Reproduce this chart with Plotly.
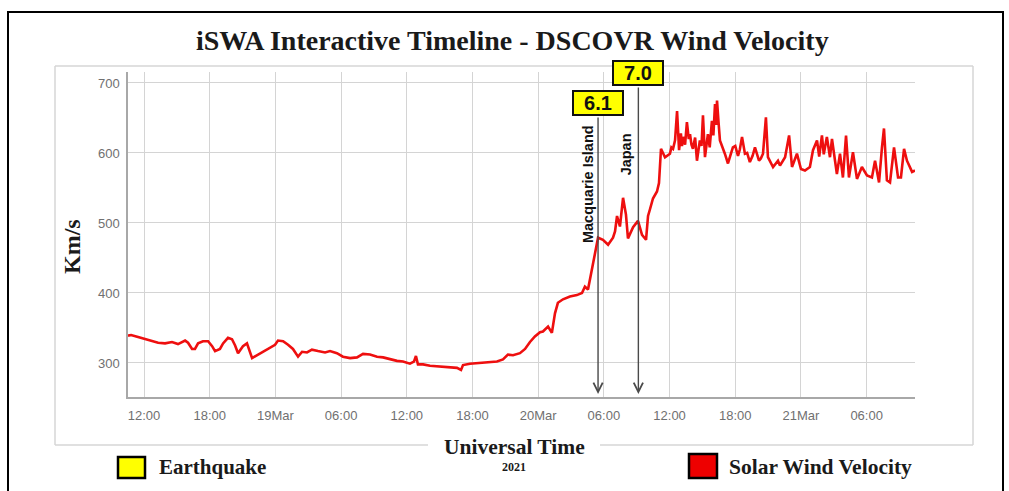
import plotly.graph_objects as go

# DSCOVR solar wind speed (km/s), 18-21 March 2021 (UT)
times = [
    "2021-03-18 10:32", "2021-03-18 10:49", "2021-03-18 11:27", "2021-03-18 12:05", "2021-03-18 12:44",
    "2021-03-18 13:17", "2021-03-18 13:55", "2021-03-18 14:33", "2021-03-18 15:06", "2021-03-18 15:45",
    "2021-03-18 16:01", "2021-03-18 16:23", "2021-03-18 16:39", "2021-03-18 16:56", "2021-03-18 17:23",
    "2021-03-18 17:51", "2021-03-18 18:13", "2021-03-18 18:29", "2021-03-18 18:56", "2021-03-18 19:13",
    "2021-03-18 19:40", "2021-03-18 20:02", "2021-03-18 20:19", "2021-03-18 20:35", "2021-03-18 21:02",
    "2021-03-18 21:24", "2021-03-18 21:52", "2021-03-18 22:19", "2021-03-18 22:47", "2021-03-18 23:19",
    "2021-03-18 23:58", "2021-03-19 00:14", "2021-03-19 00:42", "2021-03-19 01:09", "2021-03-19 01:36",
    "2021-03-19 02:04", "2021-03-19 02:26", "2021-03-19 02:53", "2021-03-19 03:20", "2021-03-19 03:53",
    "2021-03-19 04:32", "2021-03-19 04:59", "2021-03-19 05:37", "2021-03-19 06:10", "2021-03-19 06:49",
    "2021-03-19 07:27", "2021-03-19 08:00", "2021-03-19 08:38", "2021-03-19 09:17", "2021-03-19 09:50",
    "2021-03-19 10:28", "2021-03-19 11:06", "2021-03-19 11:39", "2021-03-19 12:17", "2021-03-19 12:39",
    "2021-03-19 12:50", "2021-03-19 13:01", "2021-03-19 13:29", "2021-03-19 14:07", "2021-03-19 14:45",
    "2021-03-19 15:18", "2021-03-19 15:57", "2021-03-19 16:35", "2021-03-19 16:57", "2021-03-19 17:08",
    "2021-03-19 17:46", "2021-03-19 18:24", "2021-03-19 18:57", "2021-03-19 19:36", "2021-03-19 20:14",
    "2021-03-19 20:47", "2021-03-19 21:14", "2021-03-19 21:42", "2021-03-19 22:20", "2021-03-19 22:48",
    "2021-03-19 23:15", "2021-03-19 23:42", "2021-03-20 00:10", "2021-03-20 00:26", "2021-03-20 00:54",
    "2021-03-20 01:15", "2021-03-20 01:32", "2021-03-20 01:48", "2021-03-20 02:16", "2021-03-20 02:54",
    "2021-03-20 03:32", "2021-03-20 04:00", "2021-03-20 04:16", "2021-03-20 04:33", "2021-03-20 04:55",
    "2021-03-20 05:11", "2021-03-20 05:28", "2021-03-20 05:55", "2021-03-20 06:23", "2021-03-20 06:50",
    "2021-03-20 07:01", "2021-03-20 07:12", "2021-03-20 07:28", "2021-03-20 07:45", "2021-03-20 08:01",
    "2021-03-20 08:12", "2021-03-20 08:40", "2021-03-20 09:07", "2021-03-20 09:29", "2021-03-20 09:51",
    "2021-03-20 10:02", "2021-03-20 10:13", "2021-03-20 10:29", "2021-03-20 10:51", "2021-03-20 11:02",
    "2021-03-20 11:13", "2021-03-20 11:35", "2021-03-20 12:02", "2021-03-20 12:10", "2021-03-20 12:19",
    "2021-03-20 12:30", "2021-03-20 12:41", "2021-03-20 12:52", "2021-03-20 13:02", "2021-03-20 13:08",
    "2021-03-20 13:14", "2021-03-20 13:25", "2021-03-20 13:35", "2021-03-20 13:45", "2021-03-20 13:52",
    "2021-03-20 14:00", "2021-03-20 14:08", "2021-03-20 14:20", "2021-03-20 14:30", "2021-03-20 14:38",
    "2021-03-20 14:46", "2021-03-20 14:55", "2021-03-20 15:03", "2021-03-20 15:14", "2021-03-20 15:22",
    "2021-03-20 15:30", "2021-03-20 15:40", "2021-03-20 15:52", "2021-03-20 16:00", "2021-03-20 16:09",
    "2021-03-20 16:15", "2021-03-20 16:20", "2021-03-20 16:28", "2021-03-20 16:36", "2021-03-20 17:03",
    "2021-03-20 17:10", "2021-03-20 17:20", "2021-03-20 17:35", "2021-03-20 17:47", "2021-03-20 18:00",
    "2021-03-20 18:15", "2021-03-20 18:25", "2021-03-20 18:37", "2021-03-20 18:53", "2021-03-20 19:05",
    "2021-03-20 19:20", "2021-03-20 19:35", "2021-03-20 19:48", "2021-03-20 20:10", "2021-03-20 20:20",
    "2021-03-20 20:32", "2021-03-20 20:48", "2021-03-20 20:59", "2021-03-20 21:27", "2021-03-20 21:54",
    "2021-03-20 22:05", "2021-03-20 22:33", "2021-03-20 22:55", "2021-03-20 23:11", "2021-03-20 23:38",
    "2021-03-21 00:00", "2021-03-21 00:22", "2021-03-21 00:49", "2021-03-21 01:06", "2021-03-21 01:28",
    "2021-03-21 01:40", "2021-03-21 01:55", "2021-03-21 02:05", "2021-03-21 02:22", "2021-03-21 02:39",
    "2021-03-21 02:50", "2021-03-21 03:17", "2021-03-21 03:34", "2021-03-21 03:50", "2021-03-21 04:07",
    "2021-03-21 04:23", "2021-03-21 04:45", "2021-03-21 05:07", "2021-03-21 05:34", "2021-03-21 06:02",
    "2021-03-21 06:29", "2021-03-21 06:46", "2021-03-21 07:08", "2021-03-21 07:24", "2021-03-21 07:35",
    "2021-03-21 07:51", "2021-03-21 08:08", "2021-03-21 08:30", "2021-03-21 08:52", "2021-03-21 09:08",
    "2021-03-21 09:25", "2021-03-21 09:41", "2021-03-21 10:09", "2021-03-21 10:25",
]
speed = [
    339, 340, 337, 334, 332,
    329, 328, 330, 327, 332,
    329, 320, 320, 328, 331,
    331, 324, 317, 320, 328,
    336, 334, 325, 314, 324,
    328, 307, 311, 316, 321,
    326, 332, 331, 326, 320,
    309, 316, 315, 319, 317,
    315, 317, 314, 309, 307,
    308, 313, 312, 309, 308,
    305, 303, 302, 299, 302,
    310, 298, 298, 296, 295,
    294, 294, 293, 290, 297,
    299, 300, 300, 301, 302,
    305, 312, 311, 314, 320,
    330, 338, 344, 345, 352,
    343, 371, 386, 391, 395,
    397, 400, 409, 405, 433,
    457, 479, 476, 469, 479,
    488, 510, 495, 536, 512,
    478, 494, 503, 483, 476,
    510, 520, 535, 545, 557,
    606, 594, 599, 608, 606,
    618, 660, 604, 628, 610,
    623, 612, 644, 620, 627,
    612, 606, 622, 589, 605,
    618, 610, 654, 594, 612,
    627, 608, 646, 625, 670,
    640, 675, 645, 618, 599,
    592, 585, 598, 608, 610,
    596, 605, 623, 599, 600,
    587, 596, 608, 589, 592,
    599, 651, 594, 580, 589,
    582, 594, 625, 580, 599,
    577, 575, 580, 604, 618,
    595, 625, 598, 623, 594,
    620, 570, 599, 565, 625,
    565, 601, 563, 580, 568,
    565, 589, 558, 608, 635,
    561, 558, 608, 565, 565,
    606, 589, 573, 575,
]

# Earthquakes marked on the timeline
eq_names = ["Macquarie Island", "Japan"]
eq_times = ["2021-03-20 05:28", "2021-03-20 09:09"]
eq_mags = ["6.1", "7.0"]

# Axis ticks
x_tickvals = [
    "2021-03-18 12:00", "2021-03-18 18:00", "2021-03-19 00:00", "2021-03-19 06:00",
    "2021-03-19 12:00", "2021-03-19 18:00", "2021-03-20 00:00", "2021-03-20 06:00",
    "2021-03-20 12:00", "2021-03-20 18:00", "2021-03-21 00:00", "2021-03-21 06:00",
]
x_ticktext = ["12:00", "18:00", "19Mar", "06:00", "12:00", "18:00",
              "20Mar", "06:00", "12:00", "18:00", "21Mar", "06:00"]
y_tickvals = [300, 400, 500, 600, 700]

x_range = ["2021-03-18 10:32", "2021-03-21 10:25"]
y_range = [251.4, 715.7]

W, H = 1009, 491
L, R, T, B = 128, 94, 72, 94
PW, PH = W - L - R, H - T - B


def px(x):
    return (x - L) / PW


def py(y):
    return (H - B - y) / PH


SERIF = "Liberation Serif, Times New Roman, serif"
SANS = "Liberation Sans, Arial, sans-serif"

fig = go.Figure()
fig.add_trace(go.Scatter(
    x=times, y=speed, mode="lines",
    line=dict(color="#ee0f0f", width=2.6),
    hoverinfo="x+y", showlegend=False,
))

shapes = []
# outer black frame
shapes.append(dict(type="rect", xref="paper", yref="paper",
                   x0=px(8), x1=px(1003), y0=py(520), y1=py(12),
                   line=dict(color="black", width=2)))
# inner light panel outline
panel = dict(color="#d6d6d6", width=1.5)
for (x0, y0, x1, y1) in [(55, 66, 973, 66), (55, 66, 55, 445), (973, 66, 973, 445),
                         (55, 445, 428, 445), (600, 445, 973, 445)]:
    shapes.append(dict(type="line", xref="paper", yref="paper",
                       x0=px(x0), x1=px(x1), y0=py(y0), y1=py(y1), line=panel))
# legend swatches
shapes.append(dict(type="rect", xref="paper", yref="paper",
                   x0=px(118), x1=px(145), y0=py(478), y1=py(457),
                   fillcolor="#ffff00", line=dict(color="black", width=2.5)))
shapes.append(dict(type="rect", xref="paper", yref="paper",
                   x0=px(689), x1=px(717), y0=py(478), y1=py(454),
                   fillcolor="#ee0000", line=dict(color="black", width=2.5)))

annotations = []
# title
annotations.append(dict(xref="paper", yref="paper", x=px(512), y=py(40),
                        text="<b>iSWA Interactive Timeline - DSCOVR Wind Velocity</b>",
                        showarrow=False, xanchor="center", yanchor="middle",
                        font=dict(family=SERIF, size=28, color="#1a1a1a")))
# y-axis title
annotations.append(dict(xref="paper", yref="paper", x=px(72), y=py(247),
                        text="<b>Km/s</b>", textangle=-90, showarrow=False,
                        xanchor="center", yanchor="middle",
                        font=dict(family=SERIF, size=24, color="#1a1a1a")))
# x-axis title
annotations.append(dict(xref="paper", yref="paper", x=px(514), y=py(447),
                        text="<b>Universal Time</b>", showarrow=False,
                        xanchor="center", yanchor="middle",
                        font=dict(family=SERIF, size=21.5, color="#1a1a1a")))
annotations.append(dict(xref="paper", yref="paper", x=px(514), y=py(467),
                        text="<b>2021</b>", showarrow=False,
                        xanchor="center", yanchor="middle",
                        font=dict(family=SERIF, size=12, color="#1a1a1a")))
# legend labels
annotations.append(dict(xref="paper", yref="paper", x=px(157), y=py(467),
                        text="<b>Earthquake</b>", showarrow=False,
                        xanchor="left", yanchor="middle",
                        font=dict(family=SERIF, size=21, color="#1a1a1a")))
annotations.append(dict(xref="paper", yref="paper", x=px(727), y=py(467),
                        text="<b>Solar Wind Velocity</b>", showarrow=False,
                        xanchor="left", yanchor="middle",
                        font=dict(family=SERIF, size=21.5, color="#1a1a1a")))

# earthquake markers: arrow, magnitude box and rotated place name
box_center_y = [103, 73]
arrow_tail_y = [116, 86]
name_center_y = [184, 154]
name_shift = [-10, -12]
tip_y = 394
for name, t, mag, by, ty, ny, ns in zip(eq_names, eq_times, eq_mags,
                                        box_center_y, arrow_tail_y, name_center_y, name_shift):
    annotations.append(dict(x=t, xref="x", yref="paper", y=py(tip_y),
                            showarrow=True, arrowhead=5, arrowsize=1.3, arrowwidth=1.4,
                            arrowcolor="#4a4a4a", ax=0, ay=ty - tip_y, axref="pixel",
                            ayref="pixel", text=""))
    annotations.append(dict(x=t, xref="x", yref="paper", y=py(by),
                            text="<b>" + mag + "</b>", showarrow=False,
                            xanchor="center", yanchor="middle",
                            bgcolor="#ffff00", bordercolor="#111111", borderwidth=2,
                            borderpad=1, width=46, height=20,
                            font=dict(family=SANS, size=20, color="#111111")))
    annotations.append(dict(x=t, xref="x", yref="paper", y=py(ny), xshift=ns,
                            text="<b>" + name + "</b>", textangle=-90, showarrow=False,
                            xanchor="center", yanchor="middle",
                            font=dict(family=SANS, size=14.5, color="#111111")))

fig.update_layout(
    width=W, height=H,
    margin=dict(l=L, r=R, t=T, b=B, pad=0),
    paper_bgcolor="white", plot_bgcolor="white",
    shapes=shapes, annotations=annotations,
    showlegend=False,
    xaxis=dict(type="date", range=x_range, tickvals=x_tickvals, ticktext=x_ticktext,
               showgrid=True, gridcolor="#d4d4d4", gridwidth=1,
               showline=True, linecolor="#a8a8a8", linewidth=1.5,
               ticks="", ticklabelstandoff=6,
               tickfont=dict(family=SANS, size=13, color="#707070"),
               zeroline=False, fixedrange=True),
    yaxis=dict(range=y_range, tickvals=y_tickvals,
               showgrid=True, gridcolor="#d4d4d4", gridwidth=1,
               showline=True, linecolor="#a8a8a8", linewidth=1.5,
               ticks="", ticklabelstandoff=4,
               tickfont=dict(family=SANS, size=13, color="#707070"),
               zeroline=False, fixedrange=True),
)

fig.write_html("out.html")
